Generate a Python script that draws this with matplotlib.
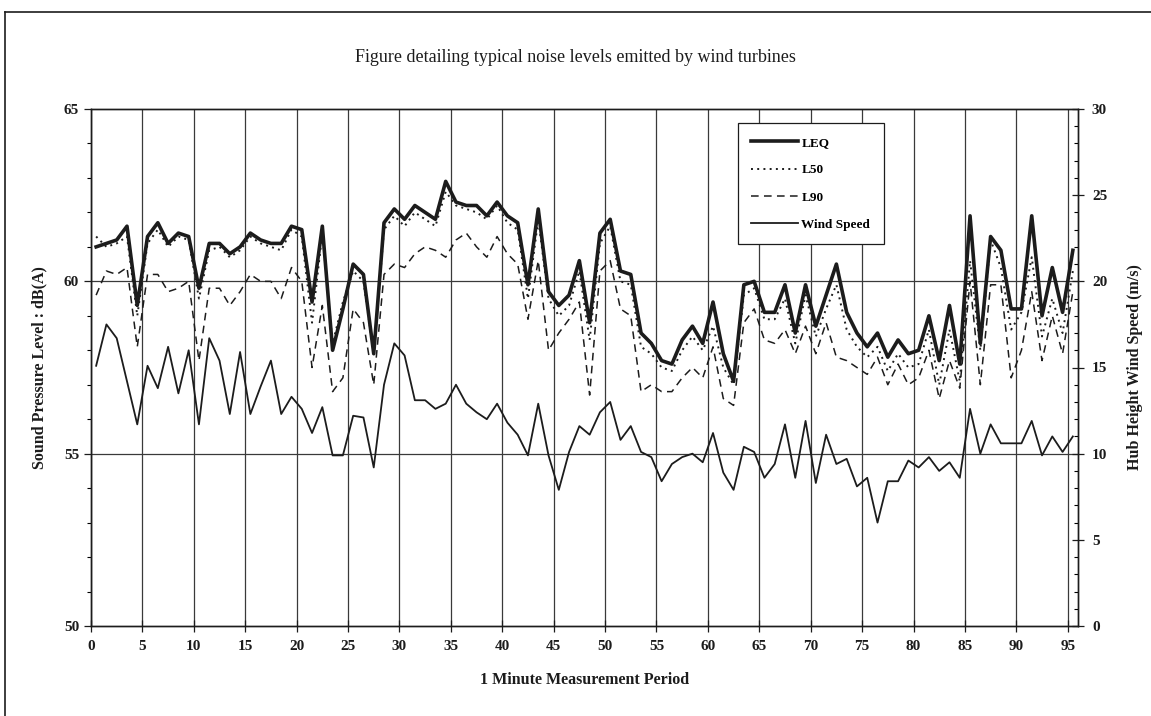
import numpy as np
import matplotlib.pyplot as plt
from matplotlib.lines import Line2D

# 1 minute periods 0..95, values plotted mid-period
periods = np.arange(96) + 0.5

leq = [61.0, 61.1, 61.2, 61.6, 59.3, 61.3, 61.7, 61.1, 61.4, 61.3,
       59.8, 61.1, 61.1, 60.8, 61.0, 61.4, 61.2, 61.1, 61.1, 61.6,
       61.5, 59.4, 61.6, 58.0, 59.2, 60.5, 60.2, 57.9, 61.7, 62.1,
       61.8, 62.2, 62.0, 61.8, 62.9, 62.3, 62.2, 62.2, 61.9, 62.3,
       61.9, 61.7, 59.9, 62.1, 59.7, 59.3, 59.6, 60.6, 58.8, 61.4,
       61.8, 60.3, 60.2, 58.5, 58.2, 57.7, 57.6, 58.3, 58.7, 58.2,
       59.4, 57.9, 57.1, 59.9, 60.0, 59.1, 59.1, 59.9, 58.5, 59.9,
       58.7, 59.6, 60.5, 59.1, 58.5, 58.1, 58.5, 57.8, 58.3, 57.9,
       58.0, 59.0, 57.7, 59.3, 57.6, 61.9, 58.2, 61.3, 60.9, 59.2,
       59.2, 61.9, 59.0, 60.4, 59.1, 60.9]

l50 = [61.3, 61.0, 61.1, 61.3, 59.0, 61.1, 61.5, 61.0, 61.3, 61.2,
       59.5, 60.9, 61.0, 60.7, 60.9, 61.3, 61.1, 61.0, 60.9, 61.5,
       61.3, 58.8, 61.4, 58.2, 59.4, 60.3, 60.0, 57.9, 61.5, 61.9,
       61.6, 62.0, 61.8, 61.6, 62.6, 62.2, 62.1, 62.0, 61.8, 62.2,
       61.7, 61.5, 59.5, 61.8, 59.5, 59.0, 59.3, 60.3, 58.3, 61.1,
       61.6, 60.0, 59.9, 58.1, 57.9, 57.5, 57.4, 58.0, 58.4, 58.0,
       58.7, 57.5, 57.0, 59.6, 59.8, 58.9, 58.9, 59.5, 58.2, 59.6,
       58.4, 59.2, 59.9, 58.6, 58.1, 57.8, 58.1, 57.4, 57.9, 57.5,
       57.6, 58.6, 57.0, 58.6, 57.1, 60.6, 58.0, 61.2, 60.4, 58.6,
       59.1, 60.7, 58.4, 59.5, 58.5, 60.3]

l90 = [59.6, 60.3, 60.2, 60.4, 58.1, 60.2, 60.2, 59.7, 59.8, 60.0,
       57.7, 59.8, 59.8, 59.3, 59.7, 60.2, 60.0, 60.0, 59.5, 60.4,
       60.0, 57.5, 59.3, 56.8, 57.2, 59.2, 58.8, 57.0, 60.2, 60.5,
       60.4, 60.8, 61.0, 60.9, 60.7, 61.2, 61.4, 61.0, 60.7, 61.3,
       60.8, 60.5, 58.9, 60.6, 58.0, 58.5, 58.9, 59.4, 56.7, 60.3,
       60.6, 59.2, 59.0, 56.8, 57.0, 56.8, 56.8, 57.2, 57.5, 57.2,
       58.1, 56.6, 56.4, 58.8, 59.2, 58.3, 58.2, 58.6, 57.9, 58.7,
       57.9, 58.8, 57.8, 57.7, 57.5, 57.3, 57.8, 57.0, 57.6, 57.0,
       57.2, 58.0, 56.6, 57.7, 56.9, 60.0, 57.0, 59.9, 59.9, 57.2,
       58.0, 59.7, 57.7, 59.0, 57.9, 59.7]

wind = [15.1, 17.5, 16.7, 14.2, 11.7, 15.1, 13.8, 16.2, 13.5, 16.0,
        11.7, 16.7, 15.4, 12.3, 15.9, 12.3, 13.9, 15.4, 12.3, 13.3,
        12.6, 11.2, 12.7, 9.9, 9.9, 12.2, 12.1, 9.2, 14.0, 16.4,
        15.7, 13.1, 13.1, 12.6, 12.9, 14.0, 12.9, 12.4, 12.0, 12.9,
        11.8, 11.1, 9.9, 12.9, 9.9, 7.9, 10.1, 11.6, 11.1, 12.4,
        13.0, 10.8, 11.6, 10.1, 9.8, 8.4, 9.4, 9.8, 10.0, 9.5,
        11.2, 8.9, 7.9, 10.4, 10.1, 8.6, 9.4, 11.7, 8.6, 11.9,
        8.3, 11.1, 9.4, 9.7, 8.1, 8.6, 6.0, 8.4, 8.4, 9.6,
        9.2, 9.8, 9.0, 9.5, 8.6, 12.6, 10.0, 11.7, 10.6, 10.6,
        10.6, 11.9, 9.9, 11.0, 10.1, 11.0]

xticks = list(range(0, 96, 5))

plt.rcParams['font.family'] = ['Liberation Serif', 'DejaVu Serif']
ink = '#1c1c1c'
grid = '#3a3a3a'

fig = plt.figure(figsize=(11.51, 7.16), dpi=100)
ax = fig.add_axes([91 / 1151, 1 - 626 / 716, 987 / 1151, 517 / 716])
ax2 = ax.twinx()

# page frame
fig.add_artist(Line2D([5 / 1151, 1], [1 - 12 / 716] * 2, color=ink, lw=1.2))
fig.add_artist(Line2D([5 / 1151] * 2, [0, 1 - 12 / 716], color=ink, lw=1.2))

for x in xticks:
    ax.axvline(x, color=grid, lw=0.9, zorder=1)
for y in (55, 60):
    ax.axhline(y, color=grid, lw=0.9, zorder=1)

ax.plot(periods, leq, color=ink, lw=2.6, zorder=4)
ax.plot(periods, l50, color=ink, lw=1.4, ls=(0, (1, 2.2)), zorder=3)
ax.plot(periods, l90, color=ink, lw=1.1, ls=(0, (5, 3.5)), zorder=3)
ax2.plot(periods, wind, color=ink, lw=1.3)

ax.set_xlim(0, 96)
ax.set_ylim(50, 65)
ax2.set_ylim(0, 30)

ax.set_xticks(xticks)
ax.set_yticks([50, 55, 60, 65])
ax.set_yticks(np.arange(50, 66, 1), minor=True)
ax2.set_yticks([0, 5, 10, 15, 20, 25, 30])
ax2.set_yticks(np.arange(0, 31, 1), minor=True)
ax.tick_params(axis='x', direction='inout', length=8, width=0.9, labelsize=11, pad=6, colors=ink)
ax.tick_params(axis='y', which='major', direction='out', length=5, width=0.9, labelsize=11, colors=ink)
ax.tick_params(axis='y', which='minor', direction='out', length=3, width=0.8)
ax2.tick_params(axis='y', which='major', direction='inout', length=8, width=0.9, labelsize=11, colors=ink, pad=6)
ax2.tick_params(axis='y', which='minor', direction='in', length=3, width=0.8)
for lab in ax.get_xticklabels() + ax.get_yticklabels() + ax2.get_yticklabels():
    lab.set_fontweight('bold')

for a in (ax, ax2):
    for s in a.spines.values():
        s.set_color(ink)
        s.set_linewidth(1.0)

ax.set_xlabel('1 Minute Measurement Period', fontsize=11.5, fontweight='bold', labelpad=14, color=ink)
ax.set_ylabel('Sound Pressure Level : dB(A)', fontsize=11.5, fontweight='bold', labelpad=12, color=ink)
ax2.set_ylabel('Hub Height Wind Speed (m/s)', fontsize=11.5, fontweight='bold', labelpad=14, color=ink)
fig.text(0.5, 1 - 57 / 716, 'Figure detailing typical noise levels emitted by wind turbines',
         ha='center', va='center', fontsize=13, color=ink)

handles = [Line2D([], [], color=ink, lw=2.6),
           Line2D([], [], color=ink, lw=1.4, ls=(0, (1, 2.2))),
           Line2D([], [], color=ink, lw=1.1, ls=(0, (5, 3.5))),
           Line2D([], [], color=ink, lw=1.3)]
leg = ax.legend(handles, ['LEQ', 'L50', 'L90', 'Wind Speed'],
                loc='upper left', bbox_to_anchor=(0.649, 0.985),
                frameon=True, fancybox=False, edgecolor=ink, framealpha=1,
                handlelength=3.5, handletextpad=0.3, labelspacing=1.15,
                borderpad=1.0, prop={'weight': 'bold', 'size': 9.5})
leg.get_frame().set_linewidth(0.9)
leg.set_zorder(10)

fig.savefig('out.png', dpi=100)
